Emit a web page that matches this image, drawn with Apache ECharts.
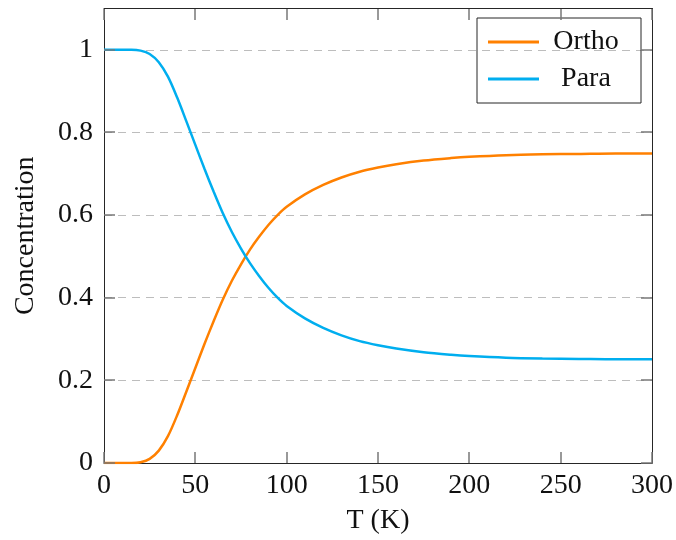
<!DOCTYPE html>
<html>
<head>
<meta charset="utf-8">
<script src="https://cdn.jsdelivr.net/npm/echarts@6/dist/echarts.min.js"></script>
<style>
  html, body { margin: 0; padding: 0; background: #fff; }
  #chart { width: 676px; height: 540px; }
</style>
</head>
<body>
<div id="chart"></div>
<script>
// Equilibrium ortho/para hydrogen fractions versus temperature
const tempK = [0, 5, 10, 15, 20, 25, 30, 35, 40, 45, 50, 55, 60, 65, 70, 75, 80, 85, 90, 95,
               100, 110, 120, 130, 140, 150, 160, 175, 190, 200, 220, 240, 260, 280, 300];
const paraFrac = [1.000, 1.000, 1.000, 1.000, 0.998, 0.990, 0.970, 0.935, 0.885, 0.828,
                  0.770, 0.712, 0.657, 0.605, 0.559, 0.519, 0.483, 0.452, 0.424, 0.400,
                  0.380, 0.350, 0.327, 0.309, 0.295, 0.285, 0.277, 0.268, 0.262, 0.259,
                  0.255, 0.253, 0.252, 0.251, 0.251];
const orthoFrac = [0.000, 0.000, 0.000, 0.000, 0.002, 0.010, 0.030, 0.065, 0.115, 0.172,
                   0.230, 0.288, 0.343, 0.395, 0.441, 0.481, 0.517, 0.548, 0.576, 0.600,
                   0.620, 0.650, 0.673, 0.691, 0.705, 0.715, 0.723, 0.732, 0.738, 0.741,
                   0.745, 0.747, 0.748, 0.749, 0.749];
const xTicks = [0, 50, 100, 150, 200, 250, 300];
const yTicks = [0, 0.2, 0.4, 0.6, 0.8, 1];
const yTickLabels = ['0', '0.2', '0.4', '0.6', '0.8', '1'];

const X_MIN = 0, X_MAX = 300, Y_MIN = 0, Y_MAX = 1.1;

const FONT = 'Liberation Serif';
const FS = 28;
const ORANGE = '#ff8000';
const CYAN = '#00aeef';
const TICK = '#777777';
const FRAME = '#262626';
const TICK_LEN = 11;

const pairs = (ys) => tempK.map((t, i) => [t, ys[i]]);

// Inward tick marks on all four sides of the frame:
// each item is [value, side] with side 0=bottom, 1=top, 2=left, 3=right
const tickItems = [];
xTicks.forEach((v) => { tickItems.push([v, 0]); tickItems.push([v, 1]); });
yTicks.forEach((v) => { tickItems.push([v, 2]); tickItems.push([v, 3]); });

function renderTick(params, api) {
  const v = api.value(0);
  const side = api.value(1);
  let p, dx = 0, dy = 0;
  if (side === 0) { p = api.coord([v, Y_MIN]); dy = -TICK_LEN; }
  else if (side === 1) { p = api.coord([v, Y_MAX]); dy = TICK_LEN; }
  else if (side === 2) { p = api.coord([X_MIN, v]); dx = TICK_LEN; }
  else { p = api.coord([X_MAX, v]); dx = -TICK_LEN; }
  const x = Math.round(p[0]), y = Math.round(p[1]);
  return {
    type: 'line',
    shape: { x1: x, y1: y, x2: x + dx, y2: y + dy },
    style: { stroke: TICK, lineWidth: 1.5 }
  };
}

const chart = echarts.init(document.getElementById('chart'), null, { renderer: 'canvas' });

const frameAxisLine = () => ({ show: true, onZero: false, lineStyle: { color: FRAME, width: 1 } });

chart.setOption({
  animation: false,
  backgroundColor: '#fff',
  grid: { left: 104, right: 24, top: 8.5, bottom: 77, containLabel: false },
  legend: {
    orient: 'vertical',
    right: 35,
    top: 18,
    padding: [9, 13, 9, 11],
    itemWidth: 51,
    itemHeight: 14,
    itemGap: 7,
    borderColor: FRAME,
    borderWidth: 1,
    borderRadius: 0,
    icon: 'path://M0,0 L51,0 L51,3 L0,3 Z',
    data: ['Ortho', 'Para'],
    formatter: (name) => '{c|' + name + '}',
    textStyle: {
      fontFamily: FONT, fontSize: FS, color: '#111', lineHeight: 30,
      rich: { c: { width: 84, align: 'center', fontFamily: FONT, fontSize: FS, color: '#111' } }
    }
  },
  xAxis: [
    {
      type: 'value', min: X_MIN, max: X_MAX, interval: 50, position: 'bottom',
      name: 'T (K)', nameLocation: 'middle', nameGap: 44,
      nameTextStyle: { fontFamily: FONT, fontSize: FS, color: '#111' },
      axisLine: frameAxisLine(), axisTick: { show: false },
      axisLabel: {
        fontFamily: FONT, fontSize: FS, color: '#111', margin: 9,
        formatter: (v) => xTicks.includes(v) ? String(v) : ''
      },
      splitLine: { show: false }
    },
    {
      type: 'value', min: X_MIN, max: X_MAX, interval: 50, position: 'top',
      axisLine: frameAxisLine(), axisTick: { show: false },
      axisLabel: { show: false }, splitLine: { show: false }
    }
  ],
  yAxis: [
    {
      type: 'value', min: Y_MIN, max: Y_MAX, interval: 0.2, position: 'left',
      name: 'Concentration', nameLocation: 'middle', nameGap: 64,
      nameTextStyle: { fontFamily: FONT, fontSize: FS, color: '#111' },
      axisLine: frameAxisLine(), axisTick: { show: false },
      axisLabel: {
        fontFamily: FONT, fontSize: FS, color: '#111', margin: 11,
        formatter: (v) => {
          const k = Math.round(v / 0.2);
          return (Math.abs(v - k * 0.2) < 1e-6 && k < yTickLabels.length) ? yTickLabels[k] : '';
        }
      },
      splitLine: {
        show: true,
        lineStyle: { color: '#bdbdbd', width: 1, type: [8, 6] }
      }
    },
    {
      type: 'value', min: Y_MIN, max: Y_MAX, interval: 0.2, position: 'right',
      axisLine: frameAxisLine(), axisTick: { show: false },
      axisLabel: { show: false }, splitLine: { show: false }
    }
  ],
  series: [
    {
      name: 'ticks', type: 'custom', data: tickItems,
      xAxisIndex: 0, yAxisIndex: 0,
      renderItem: renderTick, silent: true, clip: false, z: 5
    },
    {
      name: 'Ortho', type: 'line', data: pairs(orthoFrac),
      xAxisIndex: 0, yAxisIndex: 0,
      symbol: 'none', smooth: 0.3,
      lineStyle: { color: ORANGE, width: 2.5 },
      itemStyle: { color: ORANGE },
      z: 3
    },
    {
      name: 'Para', type: 'line', data: pairs(paraFrac),
      xAxisIndex: 0, yAxisIndex: 0,
      symbol: 'none', smooth: 0.3,
      lineStyle: { color: CYAN, width: 2.5 },
      itemStyle: { color: CYAN },
      z: 3
    }
  ]
});
</script>
</body>
</html>
